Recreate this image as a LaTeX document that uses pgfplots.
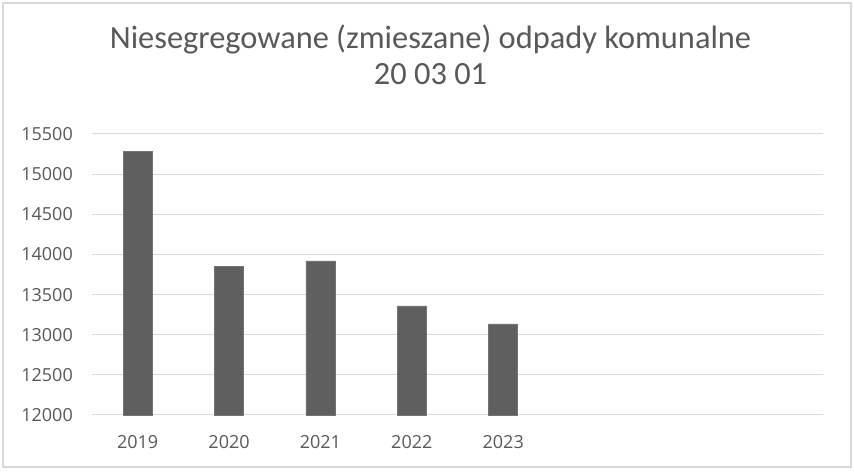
\documentclass[border=0pt]{standalone}
\usepackage{fontspec}
\setmainfont{Carlito}
\newfontfamily\tickfont{Open Sans}
\usepackage{pgfplots}
\pgfplotsset{compat=1.18}
\definecolor{barcol}{RGB}{95,95,95}
\definecolor{txtcol}{RGB}{89,89,89}
\definecolor{gridcol}{RGB}{217,217,217}
\begin{document}
\begin{tikzpicture}[x=1bp,y=1bp]
\fill[white] (0,0) rectangle (854,472);
\draw[gridcol,line width=1.2bp] (3,5) rectangle (851,469);
\node[txtcol,anchor=base,inner sep=0pt,font=\fontsize{32.4bp}{36bp}\selectfont] at (430.5,423) {Niesegregowane (zmieszane) odpady komunalne};
\node[txtcol,anchor=base,inner sep=0pt,font=\fontsize{32.4bp}{36bp}\selectfont] at (430.5,387) {20 03 01};
\begin{axis}[
  at={(92bp,57bp)}, anchor=south west,
  scale only axis, width=731bp, height=281bp,
  xmin=-0.5, xmax=7.5,
  ymin=12000, ymax=15500,
  ytick={12000,12500,...,15500},
  xtick={0,1,2,3,4},
  xticklabels={2019,2020,2021,2022,2023},
  scaled y ticks=false,
  ymajorgrids, grid style={gridcol,line width=1bp},
  axis line style={draw=none},
  major tick length=0pt,
  tick label style={txtcol,inner sep=0pt,font=\tickfont\fontsize{18bp}{20bp}\selectfont},
  yticklabel style={anchor=east,xshift=-19bp},
  xticklabel style={anchor=base,yshift=-34bp},
  /pgf/number format/assume math mode=true,
  /pgf/number format/1000 sep={},
  clip=false,
]
\addplot[ybar, bar width=29bp, fill=barcol, draw=black!55] coordinates {(0,15288) (1,13854) (2,13920) (3,13359) (4,13135)};
\end{axis}
\end{tikzpicture}
\end{document}
